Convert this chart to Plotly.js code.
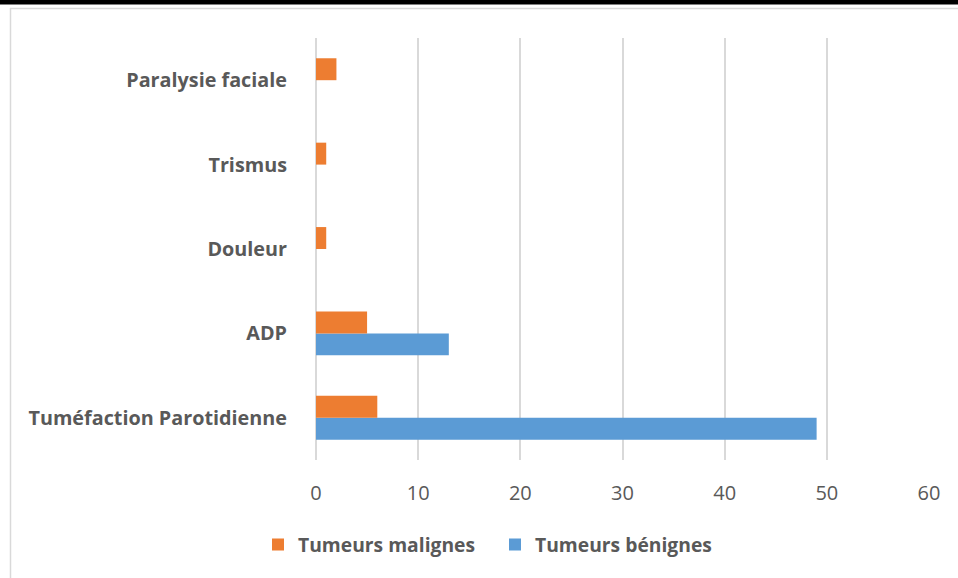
<!DOCTYPE html>
<html>
<head>
<meta charset="utf-8">
<script src="https://cdn.plot.ly/plotly-3.0.1.min.js"></script>
<style>
  html, body { margin: 0; padding: 0; background: #ffffff; }
  #chart { width: 958px; height: 578px; }
</style>
</head>
<body>
<div id="chart"></div>
<script>
// Symptômes révélateurs selon la nature de la tumeur
const categories = ['Tuméfaction Parotidienne', 'ADP', 'Douleur', 'Trismus', 'Paralysie faciale'];
const malignes = [6, 5, 1, 1, 2];
const benignes = [49, 13, 0, 0, 0];
const xTicks = [0, 10, 20, 30, 40, 50, 60];

const W = 958, H = 578;
const L = 316, R = 29, T = 38, B = 118;
const pw = W - L - R, ph = H - T - B;
// pixel -> paper helpers for the frame decorations
const px = v => (v - L) / pw;
const py = v => (H - B - v) / ph;

const textColor = '#595959';
const fontFam = '"Open Sans", Lato, sans-serif';

const traces = [
  {
    type: 'bar', orientation: 'h', name: 'Tumeurs bénignes',
    y: categories, x: benignes,
    marker: { color: '#5B9BD5' }, hoverinfo: 'x+name'
  },
  {
    type: 'bar', orientation: 'h', name: 'Tumeurs malignes',
    y: categories, x: malignes,
    marker: { color: '#ED7D31' }, hoverinfo: 'x+name'
  }
];

const layout = {
  width: W, height: H,
  margin: { l: L, r: R, t: T, b: B, pad: 0 },
  paper_bgcolor: '#ffffff', plot_bgcolor: '#ffffff',
  barmode: 'group', bargap: 0.48, bargroupgap: 0,
  font: { family: fontFam, color: textColor },
  xaxis: {
    range: [0, 60], tickvals: xTicks, ticktext: xTicks.map(String),
    showgrid: true, gridcolor: '#d9d9d9', gridwidth: 2,
    zeroline: true, zerolinecolor: '#d9d9d9', zerolinewidth: 2,
    showline: false, ticks: '', ticklabelstandoff: 19,
    tickfont: { size: 20, color: textColor, family: fontFam },
    fixedrange: true
  },
  yaxis: {
    type: 'category', showgrid: false, zeroline: false, showline: false,
    ticks: '', ticklabelstandoff: 28,
    tickfont: { size: 19.8, color: textColor, family: fontFam, weight: 'bold' },
    fixedrange: true
  },
  showlegend: true,
  legend: {
    orientation: 'h', traceorder: 'reversed',
    x: px(258), xanchor: 'left', y: py(545), yanchor: 'middle',
    font: { size: 19.3, color: textColor, family: fontFam, weight: 'bold' },
    entrywidth: 192, entrywidthmode: 'pixels',
    borderwidth: 0, bgcolor: 'rgba(0,0,0,0)'
  },
  shapes: [
    // black strip along the top edge
    { type: 'rect', xref: 'paper', yref: 'paper', layer: 'above',
      x0: px(0), x1: px(W), y0: py(0), y1: py(4.5),
      fillcolor: '#000000', line: { width: 0 } },
    // light frame lines
    { type: 'line', xref: 'paper', yref: 'paper',
      x0: px(10), x1: px(W), y0: py(8.5), y1: py(8.5),
      line: { color: '#d9d9d9', width: 1.5 } },
    { type: 'line', xref: 'paper', yref: 'paper',
      x0: px(10.5), x1: px(10.5), y0: py(8), y1: py(H),
      line: { color: '#d9d9d9', width: 1.5 } }
  ]
};

Plotly.newPlot('chart', traces, layout, { displayModeBar: false, staticPlot: true });
</script>
</body>
</html>
